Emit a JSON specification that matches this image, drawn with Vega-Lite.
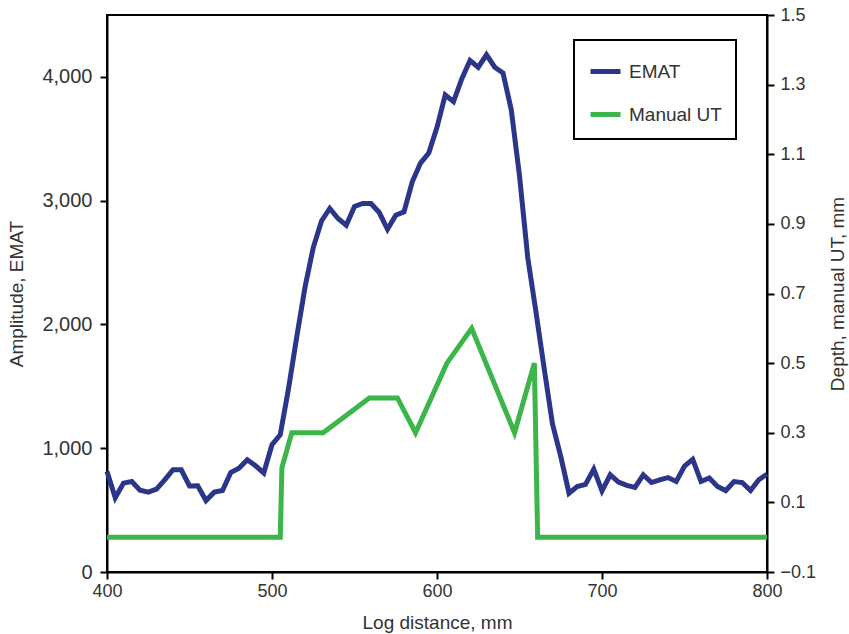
{
  "$schema": "https://vega.github.io/schema/vega-lite/v6.json",
  "width": 660,
  "height": 557,
  "autosize": "none",
  "padding": {"left": 107, "top": 15, "right": 82, "bottom": 62},
  "background": "white",
  "config": {
    "view": {"stroke": "black", "strokeWidth": 2},
    "font": "Liberation Sans",
    "axis": {
      "grid": false,
      "domainColor": "black",
      "domainWidth": 2,
      "tickColor": "black",
      "tickWidth": 2,
      "tickSize": 7,
      "labelFontSize": 18,
      "labelColor": "#333333",
      "labelFlush": false,
      "titleFontSize": 19,
      "titleFontWeight": "normal",
      "titleColor": "#333333"
    },
    "legend": {
      "strokeColor": "black",
      "strokeWidth": 2,
      "fillColor": "white",
      "padding": 14,
      "rowPadding": 15,
      "symbolType": "stroke",
      "symbolSize": 900,
      "symbolStrokeWidth": 5,
      "labelFontSize": 19,
      "labelColor": "#333333",
      "labelOffset": 6
    }
  },
  "datasets": {
    "emat": [
      {"mm": 400, "amp": 812}, {"mm": 405, "amp": 600}, {"mm": 410, "amp": 718},
      {"mm": 415, "amp": 731}, {"mm": 420, "amp": 660}, {"mm": 425, "amp": 645},
      {"mm": 430, "amp": 669}, {"mm": 435, "amp": 745}, {"mm": 440, "amp": 826},
      {"mm": 445, "amp": 826}, {"mm": 450, "amp": 695}, {"mm": 455, "amp": 696},
      {"mm": 460, "amp": 577}, {"mm": 465, "amp": 645}, {"mm": 470, "amp": 658},
      {"mm": 475, "amp": 804}, {"mm": 480, "amp": 839}, {"mm": 485, "amp": 907},
      {"mm": 490, "amp": 858}, {"mm": 495, "amp": 800}, {"mm": 500, "amp": 1028},
      {"mm": 505, "amp": 1109}, {"mm": 510, "amp": 1480}, {"mm": 515, "amp": 1900},
      {"mm": 520, "amp": 2300}, {"mm": 525, "amp": 2621}, {"mm": 530, "amp": 2836},
      {"mm": 535, "amp": 2937}, {"mm": 540, "amp": 2856}, {"mm": 545, "amp": 2802},
      {"mm": 550, "amp": 2953}, {"mm": 555, "amp": 2977}, {"mm": 560, "amp": 2977},
      {"mm": 565, "amp": 2904}, {"mm": 570, "amp": 2769}, {"mm": 575, "amp": 2883},
      {"mm": 580, "amp": 2909}, {"mm": 585, "amp": 3152}, {"mm": 590, "amp": 3304},
      {"mm": 595, "amp": 3385}, {"mm": 600, "amp": 3593}, {"mm": 605, "amp": 3854},
      {"mm": 610, "amp": 3800}, {"mm": 615, "amp": 3984}, {"mm": 620, "amp": 4132},
      {"mm": 625, "amp": 4078}, {"mm": 630, "amp": 4178}, {"mm": 635, "amp": 4078},
      {"mm": 640, "amp": 4032}, {"mm": 645, "amp": 3735}, {"mm": 650, "amp": 3201},
      {"mm": 655, "amp": 2540}, {"mm": 660, "amp": 2100}, {"mm": 665, "amp": 1640},
      {"mm": 670, "amp": 1195}, {"mm": 675, "amp": 934}, {"mm": 680, "amp": 637},
      {"mm": 685, "amp": 691}, {"mm": 690, "amp": 708}, {"mm": 695, "amp": 831},
      {"mm": 700, "amp": 655}, {"mm": 705, "amp": 785}, {"mm": 710, "amp": 727},
      {"mm": 715, "amp": 700}, {"mm": 720, "amp": 684}, {"mm": 725, "amp": 785},
      {"mm": 730, "amp": 723}, {"mm": 735, "amp": 745}, {"mm": 740, "amp": 763},
      {"mm": 745, "amp": 731}, {"mm": 750, "amp": 855}, {"mm": 755, "amp": 910},
      {"mm": 760, "amp": 731}, {"mm": 765, "amp": 759}, {"mm": 770, "amp": 691},
      {"mm": 775, "amp": 658}, {"mm": 780, "amp": 731}, {"mm": 785, "amp": 723},
      {"mm": 790, "amp": 658}, {"mm": 795, "amp": 745}, {"mm": 800, "amp": 790}
    ],
    "ut": [
      {"mm": 400, "depth": 0}, {"mm": 505, "depth": 0}, {"mm": 506, "depth": 0.2},
      {"mm": 512, "depth": 0.3}, {"mm": 531, "depth": 0.3}, {"mm": 559, "depth": 0.4},
      {"mm": 576, "depth": 0.4}, {"mm": 587, "depth": 0.3}, {"mm": 606, "depth": 0.5},
      {"mm": 621, "depth": 0.6}, {"mm": 647, "depth": 0.3}, {"mm": 659, "depth": 0.5},
      {"mm": 661, "depth": 0}, {"mm": 800, "depth": 0}
    ]
  },
  "encoding": {
    "x": {
      "field": "mm",
      "type": "quantitative",
      "scale": {"domain": [400, 800], "nice": false, "zero": false},
      "axis": {
        "values": [400, 500, 600, 700, 800],
        "title": "Log distance, mm",
        "labelPadding": 3,
        "titlePadding": 13
      }
    }
  },
  "layer": [
    {
      "data": {"name": "emat"},
      "mark": {"type": "line", "strokeWidth": 5, "strokeJoin": "miter"},
      "encoding": {
        "y": {
          "field": "amp",
          "type": "quantitative",
          "scale": {"domain": [0, 4500], "nice": false},
          "axis": {
            "orient": "left",
            "values": [0, 1000, 2000, 3000, 4000],
            "format": ",.0f",
            "title": "Amplitude, EMAT",
            "labelFontSize": 20,
            "labelPadding": 8,
            "titlePadding": 15
          }
        },
        "color": {
          "datum": "EMAT",
          "type": "nominal",
          "scale": {"domain": ["EMAT", "Manual UT"], "range": ["#2b3589", "#3cb54a"]},
          "legend": {"title": null, "orient": "none", "legendX": 467, "legendY": 25}
        }
      }
    },
    {
      "data": {"name": "ut"},
      "mark": {"type": "line", "strokeWidth": 5, "strokeJoin": "miter"},
      "encoding": {
        "y": {
          "field": "depth",
          "type": "quantitative",
          "scale": {"domain": [-0.1, 1.5], "nice": false, "zero": false},
          "axis": {
            "orient": "right",
            "values": [-0.1, 0.1, 0.3, 0.5, 0.7, 0.9, 1.1, 1.3, 1.5],
            "format": ".1f",
            "title": "Depth, manual UT, mm",
            "titleAngle": 270,
            "labelPadding": 6,
            "titlePadding": 32
          }
        },
        "color": {"datum": "Manual UT", "type": "nominal"}
      }
    }
  ],
  "resolve": {"scale": {"y": "independent"}}
}
